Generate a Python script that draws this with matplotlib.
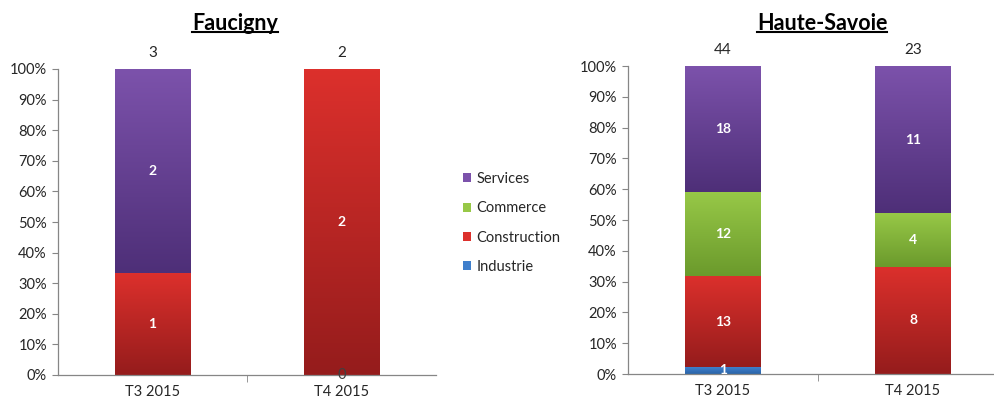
import numpy as np
import matplotlib
matplotlib.use("Agg")
import matplotlib.pyplot as plt
from matplotlib.patches import Patch
from matplotlib.lines import Line2D
from matplotlib.colors import to_rgb

plt.rcParams['font.family'] = ['Lato', 'DejaVu Sans']

categories = ["T3 2015", "T4 2015"]
series = ["Industrie", "Construction", "Commerce", "Services"]

faucigny = {
    "Industrie": [0, 0],
    "Construction": [1, 2],
    "Commerce": [0, 0],
    "Services": [2, 0],
}
faucigny_totals = [3, 2]

hsavoie = {
    "Industrie": [1, 0],
    "Construction": [13, 8],
    "Commerce": [12, 4],
    "Services": [18, 11],
}
hsavoie_totals = [44, 23]

# zero labels shown in the reference (series, category index)
faucigny_zero_labels = [("Industrie", 1)]
hsavoie_zero_labels = []

colors_top = {
    "Industrie": "#3f7fcc",
    "Construction": "#dc302c",
    "Commerce": "#97c847",
    "Services": "#7c52ab",
}
colors_bot = {
    "Industrie": "#2a64a8",
    "Construction": "#951c1c",
    "Commerce": "#6b9a2c",
    "Services": "#4e2f78",
}

fig = plt.figure(figsize=(9.94, 4.01), dpi=100)

def draw_panel(ax, data, totals, zero_labels):
    x = np.arange(len(categories))
    width = 0.4
    bottoms = np.zeros(len(categories))
    tot = np.array([sum(data[s][i] for s in series) for i in range(len(categories))], dtype=float)
    n = 80
    t = np.linspace(0, 1, n)[:, None]
    for s in series:
        vals = np.array(data[s], dtype=float)
        pct = np.where(tot > 0, vals / tot * 100, 0)
        bars = ax.bar(x, pct, width, bottom=bottoms, color='none',
                      edgecolor='none', zorder=3)
        ct = np.array(to_rgb(colors_top[s]))
        cb = np.array(to_rgb(colors_bot[s]))
        img = (cb + (ct - cb) * t).reshape(n, 1, 3)
        for b, v in zip(bars, vals):
            h = b.get_height()
            if h <= 0:
                continue
            x0, y0, w = b.get_x(), b.get_y(), b.get_width()
            ax.imshow(img, extent=[x0, x0 + w, y0, y0 + h], origin='lower',
                      aspect='auto', interpolation='bilinear', zorder=2)
            ax.text(x0 + w / 2, y0 + h / 2, f"{int(v)}", ha='center', va='center',
                    color='white', fontsize=10, fontweight='bold', zorder=4)
        bottoms = bottoms + pct
    for s, i in zero_labels:
        ax.text(x[i], 0, f"{data[s][i]}", ha='center', va='center',
                color='#404040', fontsize=10.5, zorder=4)
    for i, tv in enumerate(totals):
        ax.text(x[i], 103, f"{tv}", ha='center', va='bottom', color='#262626',
                fontsize=11, clip_on=False)
    ax.set_xlim(-0.5, len(categories) - 0.5)
    ax.set_ylim(0, 100)
    ax.set_yticks(np.arange(0, 101, 10))
    ax.set_yticklabels([f"{v}%" for v in range(0, 101, 10)])
    ax.set_xticks(x)
    ax.set_xticklabels(categories)
    ax.set_xticks([0.5], minor=True)
    ax.tick_params(axis='x', which='major', length=0, pad=7, labelsize=10.5, labelcolor='#262626')
    ax.tick_params(axis='x', which='minor', length=5, color='#868686', direction='out')
    ax.tick_params(axis='y', length=4, color='#868686', direction='out', labelsize=10.5,
                   labelcolor='#262626', pad=4)
    for sp in ['top', 'right']:
        ax.spines[sp].set_visible(False)
    for sp in ['left', 'bottom']:
        ax.spines[sp].set_color('#868686')
        ax.spines[sp].set_linewidth(0.9)

ax1 = fig.add_axes([58 / 994, 26 / 401, 378 / 994, 306 / 401])
ax2 = fig.add_axes([628 / 994, 27 / 401, 380 / 994, 308 / 401])
draw_panel(ax1, faucigny, faucigny_totals, faucigny_zero_labels)
draw_panel(ax2, hsavoie, hsavoie_totals, hsavoie_zero_labels)

titles = [("Faucigny", 235 / 994), ("Haute-Savoie", 822 / 994)]
title_objs = []
for txt, xc in titles:
    tobj = fig.text(xc, 1 - 24 / 401, txt, ha='center', va='center',
                    fontsize=15.5, fontweight='bold', color='black')
    title_objs.append(tobj)

fig.canvas.draw()
renderer = fig.canvas.get_renderer()
for tobj in title_objs:
    bb = tobj.get_window_extent(renderer).transformed(fig.transFigure.inverted())
    yline = bb.y0 + 0.006
    fig.add_artist(Line2D([bb.x0, bb.x1], [yline, yline], color='black', lw=1.5,
                          transform=fig.transFigure))

handles = [Patch(facecolor=colors_top[s], edgecolor='none', label=s)
           for s in ["Services", "Commerce", "Construction", "Industrie"]]
fig.legend(handles=handles, loc='center left', bbox_to_anchor=(450 / 994, 1 - 223 / 401),
           frameon=False, fontsize=10.5, handlelength=0.55, handleheight=0.55,
           handletextpad=0.35, labelspacing=1.05, labelcolor='#262626')

fig.savefig("out.png", dpi=100)
